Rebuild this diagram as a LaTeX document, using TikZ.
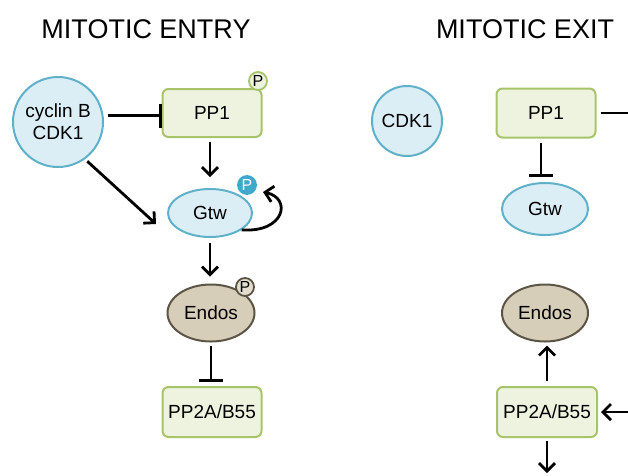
\documentclass[tikz,border=0pt]{standalone}
\usepackage{fontspec}
\setmainfont{Liberation Sans}
\usetikzlibrary{shapes.geometric,arrows.meta,calc}
\definecolor{bluefill}{HTML}{DCEEF5}
\definecolor{blueline}{HTML}{5FB1CA}
\definecolor{greenfill}{HTML}{EEF3DF}
\definecolor{greenline}{HTML}{A8C46A}
\definecolor{endfill}{HTML}{D7CEB9}
\definecolor{endline}{HTML}{5C5545}
\definecolor{pblue}{HTML}{3FA9CA}
\tikzset{
  lbl/.style={font=\fontsize{19}{22}\selectfont},
  bluecirc/.style={lbl,circle,draw=blueline,fill=bluefill,line width=2pt,inner sep=0pt,align=center},
  greenbox/.style={lbl,rectangle,rounded corners=6pt,draw=greenline,fill=greenfill,line width=2pt,inner sep=0pt},
  blueell/.style={lbl,ellipse,draw=blueline,fill=bluefill,line width=2pt,inner sep=0pt},
  endell/.style={lbl,ellipse,draw=endline,fill=endfill,line width=2pt,inner sep=0pt},
  pcirc/.style={circle,minimum size=18pt,inner sep=0pt,line width=1.8pt,font=\fontsize{16}{16}\selectfont},
  arr/.style={line width=2.8pt,-{Straight Barb[length=8pt,width=16pt]}},
  inh/.style={line width=2.8pt,-{Bar[width=24pt]}},
  plain/.style={line width=2.8pt},
  title/.style={font=\fontsize{27}{30}\selectfont}
}
\begin{document}
\begin{tikzpicture}[x=1pt,y=-1pt]
\useasboundingbox (0,0) rectangle (628,475);
% titles
\node[title] (t1) at (146,29) {MITOTIC ENTRY};
\node[title] (t2) at (525,29) {MITOTIC EXIT};
% left nodes
\node[bluecirc,minimum size=90pt] (cyc) at (58,122) {cyclin B\\CDK1};
\node[greenbox,minimum width=99pt,minimum height=48pt] (pp1L) at (212,113) {PP1};
\node[blueell,minimum width=84pt,minimum height=48pt] (gtwL) at (210,213) {Gtw};
\node[endell,minimum width=87pt,minimum height=57pt] (endL) at (211,313) {Endos};
\node[greenbox,minimum width=99pt,minimum height=50pt] (ppaL) at (212,412) {PP2A/B55};
% phospho markers
\node[pcirc,draw=greenline,fill=greenfill] (p1) at (258,81) {P};
\node[pcirc,draw=pblue,fill=pblue,text=white] (p2) at (247,185) {P};
\node[pcirc,draw=endline,fill=endfill!70!white] (p3) at (245,287) {P};
% right nodes
\node[bluecirc,minimum size=70pt] (cdk) at (407,121) {CDK1};
\node[greenbox,minimum width=99pt,minimum height=49pt] (pp1R) at (546,113) {PP1};
\node[blueell,minimum width=86pt,minimum height=52pt] (gtwR) at (545,209) {Gtw};
\node[endell,minimum width=86pt,minimum height=57pt] (endR) at (545,313) {Endos};
\node[greenbox,minimum width=100pt,minimum height=50pt] (ppaR) at (547,412) {PP2A/B55};
% free ends
\coordinate (e1) at (628,113);
\coordinate (e2) at (628,412);
\coordinate (e3) at (547,473);
% left connectors
\draw[inh,shorten <=4pt] (cyc.8) -- (cyc.8 -| pp1L.west);
\draw[arr,shorten <=4pt,shorten >=11pt] ([xshift=-2pt]pp1L.south) -- ([xshift=-2pt]pp1L.south |- gtwL.north);
\draw[arr,shorten <=3pt] (cyc.-54) -- ([xshift=-11pt,yshift=-11pt]gtwL.west);
\draw[arr] (gtwL.-28) .. controls (285,233) and (292,198) .. (263,192);
\draw[arr,shorten <=5pt,shorten >=7pt] (gtwL.south) -- (gtwL.south |- endL.north);
\draw[inh,shorten <=3pt,shorten >=4pt] (endL.south) -- (endL.south |- ppaL.north);
% right connectors
\draw[plain,shorten <=4pt] (pp1R.east) -- (e1);
\draw[inh,shorten <=4pt,shorten >=5pt] ([xshift=-5pt]pp1R.south) -- ([xshift=-5pt]pp1R.south |- gtwR.north);
\draw[arr,shorten <=5pt,shorten >=3pt] (ppaR.north) -- (endR.south -| ppaR.north);
\draw[arr,shorten >=3pt] (e2) -- (ppaR.east);
\draw[arr,shorten <=3pt] (ppaR.south) -- (e3);
\end{tikzpicture}
\end{document}
